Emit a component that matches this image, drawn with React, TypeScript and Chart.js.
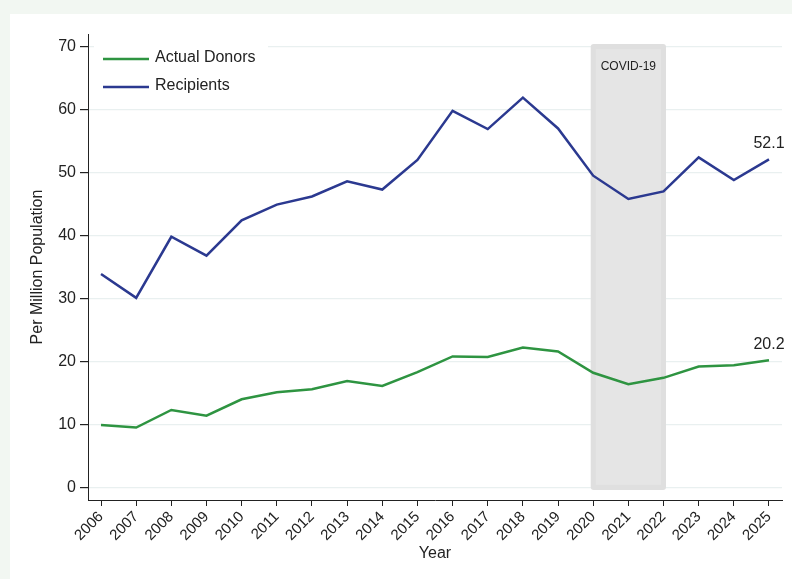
import React, { useEffect, useRef } from "react";
import { Chart, registerables } from "chart.js";

Chart.register(...registerables);

const years = [2006, 2007, 2008, 2009, 2010, 2011, 2012, 2013, 2014, 2015, 2016, 2017, 2018, 2019, 2020, 2021, 2022, 2023, 2024, 2025];
const recipients = [33.9, 30.1, 39.8, 36.8, 42.4, 44.9, 46.2, 48.6, 47.3, 52.0, 59.8, 56.9, 61.9, 57.0, 49.5, 45.8, 47.0, 52.4, 48.8, 52.1];
const donors = [9.9, 9.5, 12.3, 11.4, 14.0, 15.1, 15.6, 16.9, 16.1, 18.3, 20.8, 20.7, 22.2, 21.6, 18.2, 16.4, 17.4, 19.2, 19.4, 20.2];
const yTicks = [0, 10, 20, 30, 40, 50, 60, 70];
const seriesLabels = ["Actual Donors", "Recipients"];
const seriesColors = ["#2e9441", "#2b3990"];
const covidStart = 2020;
const covidEnd = 2022;
const covidLabel = "COVID-19";
const FONT = "'Liberation Sans', Arial, sans-serif";
const TEXT = "#222222";

const bgPlugin = {
  id: "bgPanel",
  beforeDraw(chart: any) {
    const ctx = chart.ctx;
    ctx.save();
    ctx.fillStyle = "#f2f7f2";
    ctx.fillRect(0, 0, chart.width, chart.height);
    ctx.fillStyle = "#ffffff";
    ctx.fillRect(10, 14, chart.width - 10, chart.height - 14);
    ctx.restore();
  },
};

const overlayPlugin = {
  id: "overlay",
  beforeDatasetsDraw(chart: any) {
    const ctx = chart.ctx;
    const xs = chart.scales.x;
    const ys = chart.scales.y;
    ctx.save();
    // COVID band
    const l = xs.getPixelForValue(covidStart) - 2.5;
    const r = xs.getPixelForValue(covidEnd) + 2.5;
    const t = ys.getPixelForValue(70) - 2.5;
    const b = ys.getPixelForValue(0) + 2.5;
    ctx.fillStyle = "#dfdfdf";
    ctx.beginPath();
    ctx.roundRect(l, t, r - l, b - t, 3);
    ctx.fill();
    ctx.fillStyle = "#e5e5e5";
    ctx.fillRect(l + 5, t + 5, r - l - 10, b - t - 10);
    ctx.fillStyle = TEXT;
    ctx.font = `12px ${FONT}`;
    ctx.textAlign = "center";
    ctx.textBaseline = "middle";
    ctx.fillText(covidLabel, xs.getPixelForValue((covidStart + covidEnd) / 2), 67);

    // Legend box
    const lx = chart.chartArea.left + 6;
    const ly = chart.chartArea.top + 2;
    ctx.fillStyle = "#ffffff";
    ctx.fillRect(lx, ly, 174, 64);
    ctx.font = `16px ${FONT}`;
    ctx.textAlign = "left";
    chart.data.datasets.forEach((ds: any, i: number) => {
      const yy = ly + 23 + i * 28;
      ctx.strokeStyle = ds.borderColor;
      ctx.lineWidth = 2.5;
      ctx.beginPath();
      ctx.moveTo(lx + 9, yy);
      ctx.lineTo(lx + 55, yy);
      ctx.stroke();
      ctx.fillStyle = TEXT;
      ctx.fillText(ds.label, lx + 61, yy - 1);
    });
    ctx.restore();
  },
  afterDatasetsDraw(chart: any) {
    const ctx = chart.ctx;
    ctx.save();
    ctx.fillStyle = TEXT;
    ctx.font = `16px ${FONT}`;
    ctx.textAlign = "center";
    ctx.textBaseline = "middle";
    chart.data.datasets.forEach((ds: any, i: number) => {
      const meta = chart.getDatasetMeta(i);
      const last = meta.data[meta.data.length - 1];
      const v = ds.data[ds.data.length - 1].y;
      ctx.fillText(v.toFixed(1), last.x, last.y - 16);
    });
    ctx.restore();
  },
};

export default function App() {
  const ref = useRef<HTMLCanvasElement | null>(null);
  useEffect(() => {
    if (!ref.current) return;
    const chart = new Chart(ref.current, {
      type: "line",
      data: {
        datasets: [
          {
            label: seriesLabels[0],
            data: years.map((x, i) => ({ x, y: donors[i] })),
            borderColor: seriesColors[0],
            backgroundColor: seriesColors[0],
            borderWidth: 2.5,
            pointRadius: 0,
            tension: 0,
          },
          {
            label: seriesLabels[1],
            data: years.map((x, i) => ({ x, y: recipients[i] })),
            borderColor: seriesColors[1],
            backgroundColor: seriesColors[1],
            borderWidth: 2.5,
            pointRadius: 0,
            tension: 0,
          },
        ],
      },
      options: {
        responsive: false,
        animation: false,
        devicePixelRatio: 1,
        layout: { padding: { top: 34, right: 10, bottom: 0, left: 0 } },
        plugins: { legend: { display: false }, tooltip: { enabled: false } },
        scales: {
          x: {
            type: "linear",
            min: 2005.63,
            max: 2025.37,
            afterBuildTicks: (s: any) => {
              s.ticks = years.map((v) => ({ value: v }));
            },
            afterFit: (s: any) => {
              s.height = 79;
            },
            grid: { drawOnChartArea: false, drawTicks: true, tickLength: 6, tickColor: TEXT, color: TEXT },
            border: { display: true, color: TEXT, width: 1 },
            ticks: {
              autoSkip: false,
              maxRotation: 45,
              minRotation: 45,
              padding: 2,
              color: TEXT,
              font: { family: FONT, size: 15 },
              callback: (v: any) => String(v),
            },
            title: {
              display: true,
              text: "Year",
              color: TEXT,
              font: { family: FONT, size: 16 },
              padding: { top: 0, bottom: 16 },
            },
          },
          y: {
            type: "linear",
            min: -2,
            max: 72,
            afterBuildTicks: (s: any) => {
              s.ticks = yTicks.map((v) => ({ value: v }));
            },
            afterFit: (s: any) => {
              s.width = 88;
            },
            grid: { color: "#e9f0f0", lineWidth: 1.2, drawTicks: true, tickLength: 8, tickColor: TEXT },
            border: { display: true, color: TEXT, width: 1 },
            ticks: {
              padding: 4,
              color: TEXT,
              font: { family: FONT, size: 16 },
            },
            title: {
              display: true,
              text: "Per Million Population",
              color: TEXT,
              font: { family: FONT, size: 16 },
              padding: { top: 28, bottom: 0 },
            },
          },
        },
      },
      plugins: [bgPlugin, overlayPlugin],
    } as any);
    return () => chart.destroy();
  }, []);
  return (
    <div style={{ position: "fixed", left: 0, top: 0, width: 792, height: 579 }}>
      <canvas ref={ref} width={792} height={579} style={{ display: "block" }} />
    </div>
  );
}
